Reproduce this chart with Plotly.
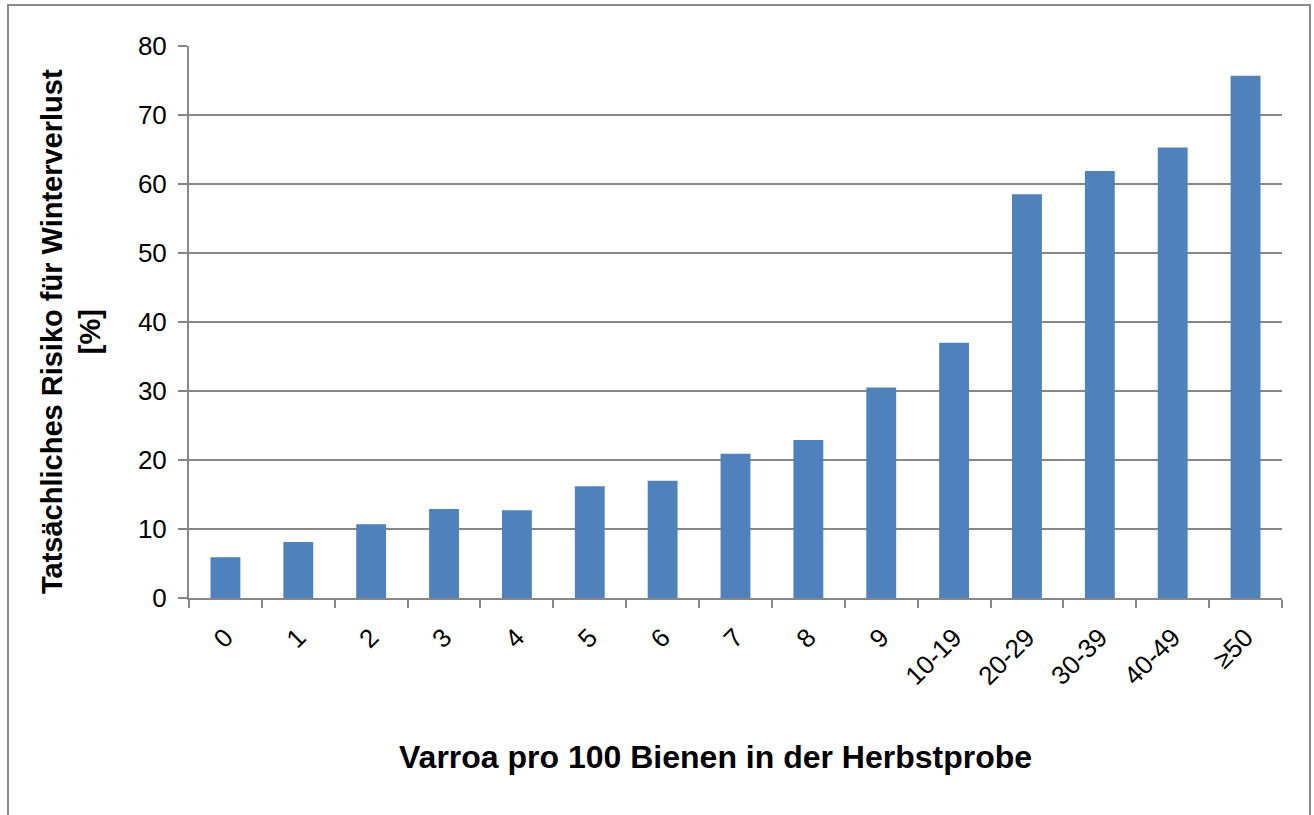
import plotly.graph_objects as go

categories = ["0", "1", "2", "3", "4", "5", "6", "7", "8", "9",
              "10-19", "20-29", "30-39", "40-49", "≥50"]
risk_values = [5.9, 8.1, 10.7, 12.9, 12.7, 16.2, 17.0, 20.9, 22.9, 30.5,
               37.0, 58.5, 61.9, 65.3, 75.7]
y_ticks = [0, 10, 20, 30, 40, 50, 60, 70, 80]

W, H = 1314, 815
L, R, T, B = 189, 1282, 46, 598
pw, ph = R - L, B - T

def px(x):
    return (x - L) / pw

def py(y):
    return (B - y) / ph

font = "Liberation Sans, Arial, sans-serif"
grey = "#878787"

fig = go.Figure(go.Bar(
    x=categories, y=risk_values,
    marker=dict(color="#4F81BD", line=dict(width=0)),
    width=0.41,
))

fig.update_layout(
    width=W, height=H,
    margin=dict(l=L, r=W - R, t=T, b=H - B),
    paper_bgcolor="white", plot_bgcolor="white",
    showlegend=False,
    font=dict(family=font, size=26, color="#000000"),
    xaxis=dict(
        type="category", tickson="boundaries",
        ticks="outside", ticklen=8, tickwidth=2, tickcolor=grey,
        showline=True, linecolor=grey, linewidth=2,
        showgrid=False, tickangle=-45, ticklabelstandoff=12,
        tickfont=dict(size=26, family=font, color="#000"),
    ),
    yaxis=dict(
        range=[0, 80], tickvals=y_ticks,
        ticks="outside", ticklen=9, tickwidth=2, tickcolor=grey,
        showline=True, linecolor=grey, linewidth=2,
        showgrid=True, gridcolor=grey, gridwidth=2,
        zeroline=False, ticklabelstandoff=6,
        tickfont=dict(size=26, family=font, color="#000"),
    ),
    shapes=[dict(
        type="rect", xref="paper", yref="paper",
        x0=px(8), x1=px(1310), y0=py(830), y1=py(5),
        line=dict(color="#8c8c8c", width=2), fillcolor="rgba(0,0,0,0)",
        layer="below",
    )],
    annotations=[
        dict(text="<b>Tatsächliches Risiko für Winterverlust<br>[%]</b>",
             xref="paper", yref="paper", x=px(71), y=py(332),
             textangle=-90, showarrow=False, xanchor="center", yanchor="middle",
             font=dict(size=29, family=font, color="#000")),
        dict(text="<b>Varroa pro 100 Bienen in der Herbstprobe</b>",
             xref="paper", yref="paper", x=px(715), y=py(757),
             showarrow=False, xanchor="center", yanchor="middle",
             font=dict(size=32, family=font, color="#000")),
    ],
)

fig.write_html("out.html", config={"displayModeBar": False},
               post_script="document.body.style.margin='0';document.body.style.overflow='hidden';")
